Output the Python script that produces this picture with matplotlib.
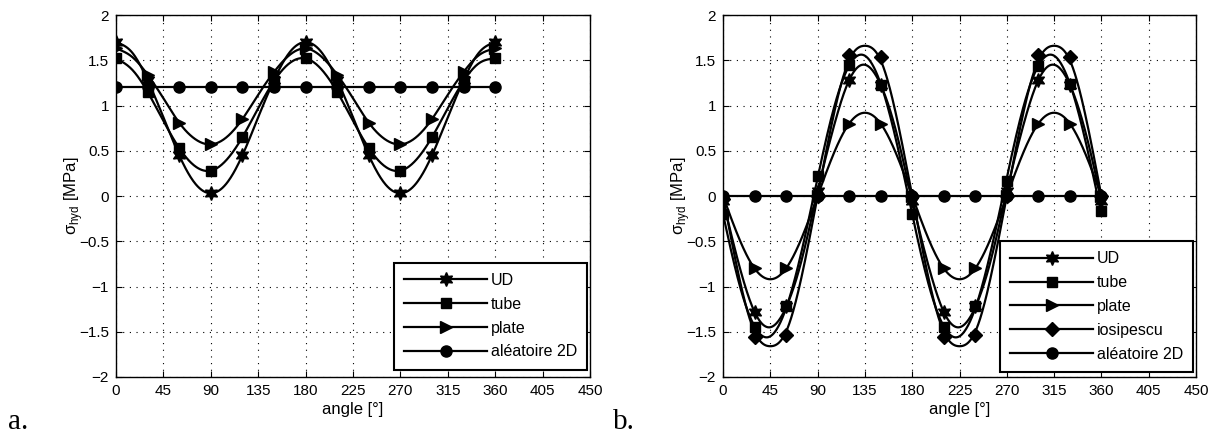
import numpy as np
import matplotlib
matplotlib.use("Agg")
import matplotlib.pyplot as plt
from matplotlib.lines import Line2D

plt.rcParams['font.family'] = ['Liberation Sans', 'DejaVu Sans']
plt.rcParams['axes.unicode_minus'] = True

# ---------------- data ----------------
angle_line = [0, 15, 30, 45, 60, 75, 90, 105, 120, 135, 150, 165, 180,
              195, 210, 225, 240, 255, 270, 285, 300, 315, 330, 345, 360]
angle_marker = [0, 30, 60, 90, 120, 150, 180, 210, 240, 270, 300, 330, 360]

x_ticks = [0, 45, 90, 135, 180, 225, 270, 315, 360, 405, 450]
y_ticks = [-2, -1.5, -1, -0.5, 0, 0.5, 1, 1.5, 2]
y_ticklabels = ['\u22122', '\u22121.5', '\u22121', '\u22120.5', '0', '0.5', '1', '1.5', '2']

# panel a: curves read every 15 deg (markers every 30 deg lie on them)
a_ud = [1.70, 1.59, 1.28, 0.87, 0.45, 0.14, 0.03, 0.14, 0.45, 0.87, 1.28, 1.59, 1.70,
        1.59, 1.28, 0.87, 0.45, 0.14, 0.03, 0.14, 0.45, 0.87, 1.28, 1.59, 1.70]
a_tube = [1.52, 1.40, 1.15, 0.83, 0.53, 0.33, 0.28, 0.40, 0.65, 0.97, 1.27, 1.47, 1.52,
          1.40, 1.15, 0.83, 0.53, 0.33, 0.28, 0.40, 0.65, 0.97, 1.27, 1.47, 1.52]
a_plate = [1.63, 1.54, 1.34, 1.08, 0.81, 0.63, 0.57, 0.65, 0.85, 1.12, 1.37, 1.56, 1.63,
           1.54, 1.34, 1.08, 0.81, 0.63, 0.57, 0.65, 0.85, 1.12, 1.37, 1.56, 1.63]
a_alea = [1.2, 1.2, 1.2, 1.2, 1.2, 1.2, 1.2, 1.2, 1.2, 1.2, 1.2, 1.2, 1.2,
          1.2, 1.2, 1.2, 1.2, 1.2, 1.2, 1.2, 1.2, 1.2, 1.2, 1.2, 1.2]

# panel b: curves read every 15 deg
b_ud_line = [-0.05, -0.75, -1.28, -1.45, -1.23, -0.70, 0.05, 0.75, 1.28, 1.45, 1.23, 0.70, -0.05,
             -0.75, -1.28, -1.45, -1.23, -0.70, 0.05, 0.75, 1.28, 1.45, 1.23, 0.70, -0.05]
b_tube_line = [-0.20, -0.95, -1.44, -1.55, -1.24, -0.60, 0.20, 0.95, 1.44, 1.55, 1.24, 0.60, -0.20,
               -0.95, -1.44, -1.55, -1.24, -0.60, 0.20, 0.95, 1.44, 1.55, 1.24, 0.60, -0.20]
b_plate_line = [0.0, -0.46, -0.80, -0.92, -0.80, -0.46, 0.0, 0.46, 0.80, 0.92, 0.80, 0.46, 0.0,
                -0.46, -0.80, -0.92, -0.80, -0.46, 0.0, 0.46, 0.80, 0.92, 0.80, 0.46, 0.0]
b_iosi_line = [0.0, -0.88, -1.50, -1.66, -1.50, -0.88, 0.0, 0.88, 1.50, 1.66, 1.50, 0.88, 0.0,
               -0.88, -1.50, -1.66, -1.50, -0.88, 0.0, 0.88, 1.50, 1.66, 1.50, 0.88, 0.0]
b_alea_line = [0.0] * 25

# panel b: markers every 30 deg
b_ud_mk = [-0.05, -1.28, -1.22, 0.05, 1.28, 1.23, -0.05, -1.28, -1.22, 0.05, 1.28, 1.23, -0.05]
b_tube_mk = [-0.20, -1.45, -1.22, 0.22, 1.45, 1.23, -0.20, -1.45, -1.22, 0.17, 1.44, 1.24, -0.17]
b_plate_mk = [0.0, -0.80, -0.80, 0.0, 0.80, 0.80, 0.0, -0.80, -0.80, 0.0, 0.80, 0.80, 0.0]
b_iosi_mk = [-0.03, -1.56, -1.54, 0.0, 1.56, 1.54, 0.0, -1.56, -1.54, 0.0, 1.56, 1.54, 0.0]
b_alea_mk = [0.0] * 13

labels_a = ['UD', 'tube', 'plate', 'aléatoire 2D']
labels_b = ['UD', 'tube', 'plate', 'iosipescu', 'aléatoire 2D']

# ---------------- helpers ----------------
HEX = (6, 1, 0)
MARKERS = {'UD': HEX, 'tube': 's', 'plate': '>', 'iosipescu': 'D', 'aléatoire 2D': 'o'}
MSIZE = {'UD': 10, 'tube': 7.5, 'plate': 8, 'iosipescu': 7, 'aléatoire 2D': 8}


def smooth(x, y, n=600):
    """Natural cubic spline through the read points, for a smooth drawn line."""
    x = np.asarray(x, float)
    y = np.asarray(y, float)
    m = len(x)
    h = np.diff(x)
    A = np.zeros((m, m))
    r = np.zeros(m)
    A[0, 0] = A[-1, -1] = 1
    for i in range(1, m - 1):
        A[i, i - 1] = h[i - 1]
        A[i, i] = 2 * (h[i - 1] + h[i])
        A[i, i + 1] = h[i]
        r[i] = 6 * ((y[i + 1] - y[i]) / h[i] - (y[i] - y[i - 1]) / h[i - 1])
    M = np.linalg.solve(A, r)
    xs = np.linspace(x[0], x[-1], n)
    idx = np.clip(np.searchsorted(x, xs) - 1, 0, m - 2)
    x0, x1 = x[idx], x[idx + 1]
    hh = x1 - x0
    t0, t1 = x1 - xs, xs - x0
    ys = (M[idx] * t0 ** 3 / (6 * hh) + M[idx + 1] * t1 ** 3 / (6 * hh)
          + (y[idx] / hh - M[idx] * hh / 6) * t0 + (y[idx + 1] / hh - M[idx + 1] * hh / 6) * t1)
    return xs, ys


def style_axes(ax):
    ax.set_xlim(0, 450)
    ax.set_ylim(-2, 2)
    ax.set_xticks(x_ticks)
    ax.set_yticks(y_ticks)
    ax.set_yticklabels(y_ticklabels)
    ax.tick_params(direction='in', length=4, width=0.8, top=True, right=True,
                   labelsize=11, pad=5)
    ax.grid(True, color='black', linestyle=(0, (1, 5)), linewidth=0.8)
    for s in ax.spines.values():
        s.set_linewidth(1.0)
    ax.set_xlabel('angle [°]', fontsize=12, labelpad=3)
    ax.set_ylabel(r'σ$_{\mathregular{hyd}}$ [MPa]', fontsize=12, labelpad=-4)


def add_legend(ax, labels, anchor):
    handles = [Line2D([], [], color='black', lw=1.6, marker=MARKERS[l],
                      markersize=MSIZE[l], markerfacecolor='black',
                      markeredgecolor='black') for l in labels]
    leg = ax.legend(handles, labels, loc='lower right', bbox_to_anchor=anchor,
                    borderaxespad=0,
                    fontsize=11.5, handlelength=5.2, handletextpad=0.2,
                    labelspacing=0.55, borderpad=0.65, numpoints=1,
                    fancybox=False, framealpha=1, edgecolor='black')
    leg.get_frame().set_linewidth(1.5)


fig = plt.figure(figsize=(12.15, 4.33), dpi=100)
ax_a = fig.add_axes([116 / 1215, 56 / 433, 474 / 1215, 362 / 433])
ax_b = fig.add_axes([723 / 1215, 56 / 433, 473 / 1215, 362 / 433])

# panel a
series_a = [a_ud, a_tube, a_plate, a_alea]
for lab, vals in zip(labels_a, series_a):
    xs, ys = smooth(angle_line, vals)
    ax_a.plot(xs, ys, color='black', lw=1.6, zorder=3)
    ax_a.plot(angle_line[::2], vals[::2], linestyle='none', marker=MARKERS[lab],
              markersize=MSIZE[lab], color='black', zorder=4)
style_axes(ax_a)
add_legend(ax_a, labels_a, (0.994, 0.02))

# panel b
lines_b = [b_ud_line, b_tube_line, b_plate_line, b_iosi_line, b_alea_line]
marks_b = [b_ud_mk, b_tube_mk, b_plate_mk, b_iosi_mk, b_alea_mk]
for lab, lv, mv in zip(labels_b, lines_b, marks_b):
    xs, ys = smooth(angle_line, lv)
    ax_b.plot(xs, ys, color='black', lw=1.6, zorder=3)
    ax_b.plot(angle_marker, mv, linestyle='none', marker=MARKERS[lab],
              markersize=MSIZE[lab], color='black', zorder=4)
style_axes(ax_b)
add_legend(ax_b, labels_b, (0.994, 0.014))

fig.text(8 / 1215, 1 - 422 / 433, 'a.', fontsize=21, family=['Liberation Serif', 'DejaVu Serif'],
         va='center', ha='left')
fig.text(613 / 1215, 1 - 422 / 433, 'b.', fontsize=21, family=['Liberation Serif', 'DejaVu Serif'],
         va='center', ha='left')

fig.savefig('out.png', dpi=100)
